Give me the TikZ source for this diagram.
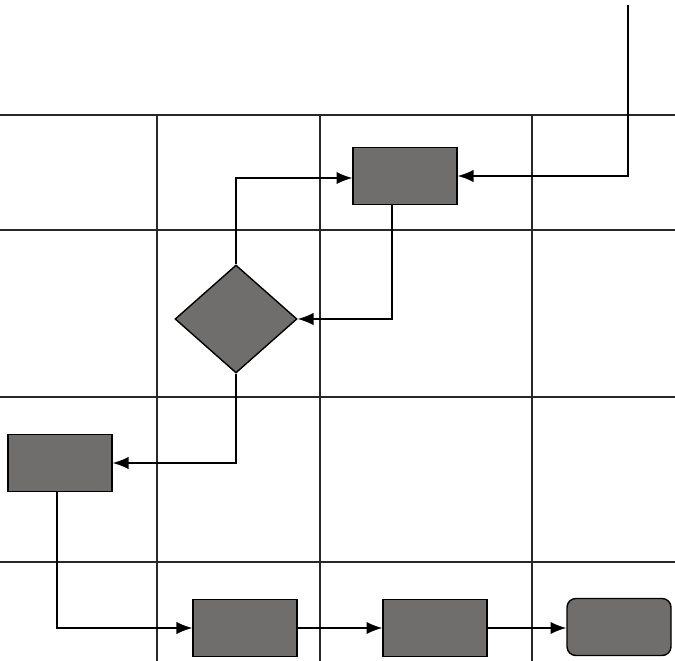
\documentclass[tikz,border=0pt]{standalone}
\usepackage{tikz}
\usetikzlibrary{arrows.meta,shapes.geometric,positioning}
\usepackage{xcolor}
\definecolor{boxgray}{RGB}{112,110,108}
\definecolor{lanegray}{RGB}{40,40,40}

\begin{document}
\begin{tikzpicture}[x=0.02cm, y=-0.02cm,
  box/.style={rectangle, draw=black, thick, fill=boxgray,
              minimum width=2.08cm, minimum height=1.14cm, inner sep=0pt},
  endbox/.style={box, rounded corners=5pt},
  decision/.style={diamond, draw=black, thick, fill=boxgray,
                   minimum width=2.44cm, minimum height=2.16cm, inner sep=0pt},
  arr/.style={-{Latex[length=9pt,width=7pt]}, thick},
  lane/.style={draw=lanegray, line width=0.6pt},
]
\useasboundingbox (0,0) rectangle (675,661);

% swimlane grid
\foreach \y in {115,230,397,562}
  \draw[lane] (0,\y) -- (675,\y);
\foreach \x in {157,320,532}
  \draw[lane] (\x,115) -- (\x,661);

\node[box]      (check)  at (405,176) {};
\node[decision] (decide) at (236,319) {};
\node[box]      (rework) at (60,463)  {};
\node[box]      (stepa)  at (245,628) {};
\node[box]      (stepb)  at (435,628) {};
\node[endbox]   (finish) at (619,627) {};
\coordinate (start) at (628,5);

\draw[arr] (start) |- (check.east);
\draw[arr] ([xshift=-0.26cm]check.south) |- (decide.east);
\draw[arr] (decide.north) |- ([yshift=-0.04cm]check.west);
\draw[arr] (decide.south) |- (rework.east);
\draw[arr] ([xshift=-0.06cm]rework.south) |- (stepa.west);
\draw[arr] (stepa) -- (stepb);
\draw[arr] (stepb) -- (finish.west |- stepb);
\end{tikzpicture}
\end{document}
